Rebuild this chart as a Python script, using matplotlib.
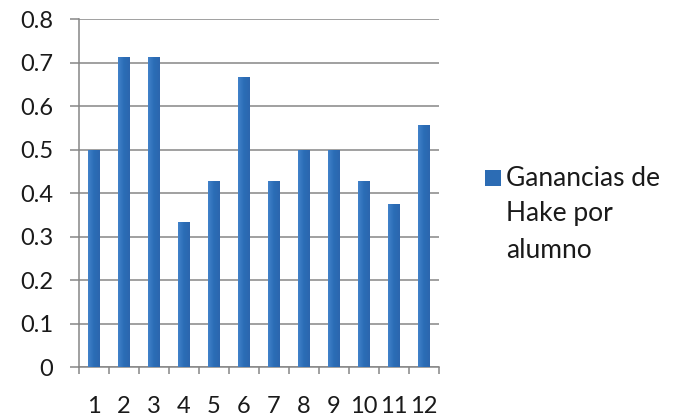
import matplotlib
matplotlib.use("Agg")
import matplotlib.pyplot as plt
import numpy as np
from matplotlib.colors import LinearSegmentedColormap
from matplotlib.patches import Rectangle

categories = ["1", "2", "3", "4", "5", "6", "7", "8", "9", "10", "11", "12"]
values = [0.5, 0.714, 0.714, 0.333, 0.429, 0.667, 0.429, 0.5, 0.5, 0.429, 0.375, 0.556]
yticks = [0, 0.1, 0.2, 0.3, 0.4, 0.5, 0.6, 0.7, 0.8]
ytick_labels = ["0", "0.1", "0.2", "0.3", "0.4", "0.5", "0.6", "0.7", "0.8"]
series_name = "Ganancias de\nHake por\nalumno"

FS = 17
plt.rcParams['font.family'] = ['Lato', 'DejaVu Sans']
fig = plt.figure(figsize=(6.78, 4.19), dpi=100)
ax = fig.add_axes([79/678, 1-367/419, 360/678, (367-19.5)/419])

x = np.arange(len(categories))
bars = ax.bar(x, values, width=0.4, color="#2C6CB4", zorder=3)

cmap = LinearSegmentedColormap.from_list("g", ["#4282CA", "#2A6DB6", "#2C66AE"])
grad = np.linspace(0, 1, 64).reshape(1, -1)
for b in bars:
    x0, w, h = b.get_x(), b.get_width(), b.get_height()
    im = ax.imshow(grad, extent=[x0, x0 + w, 0, h], cmap=cmap, aspect='auto', zorder=4)
    im.set_clip_path(b)

ax.set_xlim(-0.5, len(categories) - 0.5)
ax.set_ylim(0, 0.8)
ax.set_yticks(yticks)
ax.set_yticklabels(ytick_labels, fontsize=FS, color="#1a1a1a")
ax.set_xticks(x)
ax.set_xticklabels(categories, fontsize=FS, color="#1a1a1a")
ax.set_xticks(np.arange(-0.5, len(categories), 1), minor=True)
ax.tick_params(axis='x', which='major', length=0, pad=21)
ax.tick_params(axis='x', which='minor', length=5, width=1.1, color="#868686", direction='out')
ax.tick_params(axis='y', length=6.5, width=1.1, color="#868686", pad=12)
ax.yaxis.grid(True, color="#868686", linewidth=1.1, zorder=0)
for s in ["top", "right"]:
    ax.spines[s].set_visible(False)
for s in ["left", "bottom"]:
    ax.spines[s].set_color("#868686")
    ax.spines[s].set_linewidth(1.1)
ax.set_axisbelow(True)

fig.patches.append(Rectangle((485/678, 1-186/419), 16/678, 16/419, transform=fig.transFigure,
                             facecolor="#2C6CB4", edgecolor="none"))
fig.text(506/678, 1-214/419, series_name, fontsize=19, color="#1a1a1a",
         va='center', ha='left', linespacing=1.55, transform=fig.transFigure)

fig.savefig("out.png", dpi=100)
